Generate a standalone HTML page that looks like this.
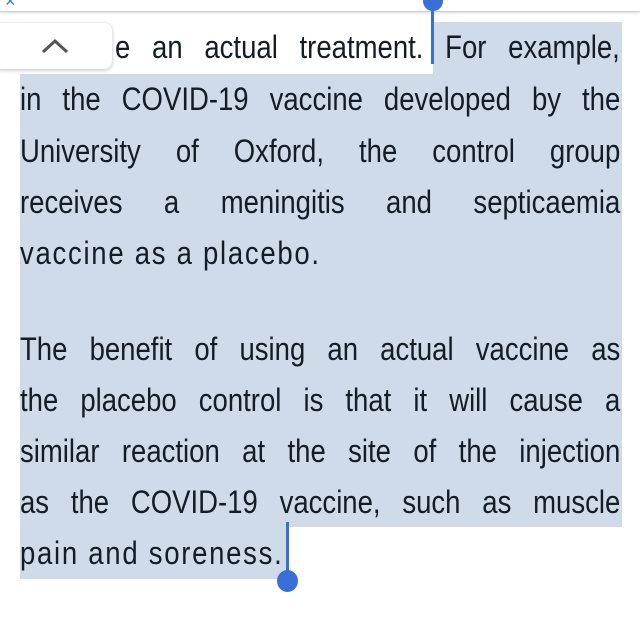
<!DOCTYPE html>
<html><head><meta charset="utf-8"><style>
body{margin:0;width:640px;height:624px;overflow:hidden;background:#fff;position:relative;font-family:"Liberation Sans",sans-serif;}
.hl{position:absolute;background:#cfdbe9;}
.ln{position:absolute;left:20px;width:698px;height:52px;line-height:52px;font-size:32px;color:#141c26;white-space:nowrap;text-align:justify;text-align-last:justify;transform:scaleX(0.86);transform-origin:0 0;}
.ln.nj{text-align:left;text-align-last:left;}
</style></head><body>
<div style="position:absolute;left:0;top:0;width:640px;height:11px;background:#fff;border-bottom:1px solid #cfcfcf;box-shadow:0 1px 3px rgba(0,0,0,.15);z-index:3"></div>
<div style="position:absolute;left:5px;top:-9px;color:#3b78d0;font-size:18px;z-index:4">×</div>

<div class="hl" style="left:433px;top:22px;width:189px;height:52px"></div>
<div class="hl" style="left:20px;top:74px;width:602px;height:453px"></div>
<div class="hl" style="left:20px;top:527px;width:267px;height:52px"></div>

<div class="ln" style="left:115px;width:587px;top:21px">e an actual treatment. For example,</div>
<div class="ln" style="top:73px">in the COVID-19 vaccine developed by the</div>
<div class="ln" style="top:125px">University of Oxford, the control group</div>
<div class="ln" style="top:176px">receives a meningitis and septicaemia</div>
<div class="ln nj" style="top:227px;letter-spacing:2px">vaccine as a placebo.</div>
<div class="ln" style="top:323px">The benefit of using an actual vaccine as</div>
<div class="ln" style="top:374px">the placebo control is that it will cause a</div>
<div class="ln" style="top:425px">similar reaction at the site of the injection</div>
<div class="ln" style="top:476px">as the COVID-19 vaccine, such as muscle</div>
<div class="ln nj" style="top:527px;letter-spacing:2px">pain and soreness.</div>

<div style="position:absolute;left:-6px;top:23px;width:118px;height:46px;background:#fff;border-radius:8px;box-shadow:0 1px 4px rgba(0,0,0,.25);z-index:2">
<svg width="118" height="46" style="position:absolute;left:0;top:0"><polyline points="49,29 61,18 73,29" fill="none" stroke="#555" stroke-width="3"/></svg>
</div>

<div style="position:absolute;left:431px;top:0;width:3px;height:64px;background:#3a6fd8;z-index:5"></div>
<div style="position:absolute;left:423px;top:-9px;width:20px;height:20px;border-radius:50%;background:#3a6fd8;z-index:5"></div>
<div style="position:absolute;left:286px;top:522px;width:3px;height:56px;background:#3a6fd8;z-index:5"></div>
<div style="position:absolute;left:277px;top:570px;width:21px;height:22px;border-radius:50%;background:#3a6fd8;z-index:5"></div>
</body></html>
